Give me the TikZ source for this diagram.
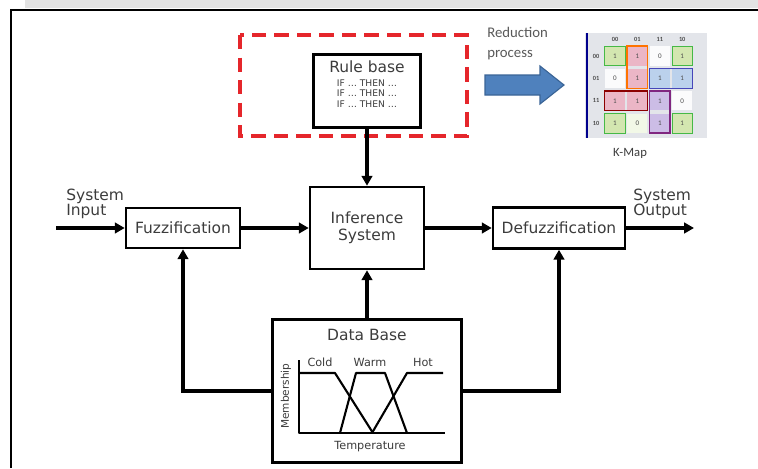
\documentclass[tikz,border=0pt]{standalone}
\usepackage{fontspec}
\setmainfont{DejaVu Sans}
\newfontfamily\calfont{Carlito}
\usetikzlibrary{arrows.meta,positioning}
\definecolor{txtgray}{HTML}{3C3C3C}
\definecolor{dashred}{HTML}{E5262B}
\definecolor{arrblue}{HTML}{4F81BD}
\definecolor{arrblueline}{HTML}{3A6496}
\definecolor{kgreen}{HTML}{D3E6B0}
\definecolor{kpink}{HTML}{EBB6C6}
\definecolor{kblue}{HTML}{BBD1EC}
\definecolor{kpurple}{HTML}{CCBDE6}
\definecolor{kback}{HTML}{E3E5EA}
\newcommand{\ifthen}{IF \ldots\ THEN \ldots}

\begin{document}
\begin{tikzpicture}[x=0.025cm, y=-0.025cm, font=\fontsize{11}{12}\selectfont, text=txtgray,
	blk/.style={draw=black, line width=1.8pt, fill=white, align=center, inner sep=2pt},
	arr/.style={draw=black, line width=2.4pt, -{Triangle[length=7pt,width=7.5pt]}},
	curve/.style={line width=1.5pt, line join=round},
	small/.style={font=\fontsize{8}{9}\selectfont, inner sep=1pt},
	kc/.style={minimum width=0.5cm, minimum height=0.48cm, inner sep=0pt,
		node distance=0.56cm, font=\calfont\fontsize{5}{5}\selectfont, text=black!70},
	kh/.style={inner sep=0pt, node distance=0.56cm, font=\calfont\bfseries\fontsize{4.5}{5}\selectfont, text=black!70}]
	\useasboundingbox (0,0) rectangle (758,468);
	\fill[gray!22] (25,0) rectangle (758,8);
	\draw[line width=1.5pt] (11,468) -- (11,10) -- (758,10);

	\draw[dashred, line width=2.2pt, dash pattern=on 10pt off 6pt] (240,35) rectangle (467,136);

	\node[blk, minimum width=2.675cm, minimum height=1.825cm, font=\fontsize{6.5}{7.5}\selectfont] (rule) at (367,91)
		{{\fontsize{11}{12}\selectfont Rule base}\\[2pt]\ifthen\\\ifthen\\\ifthen\\[2pt]};
	\node[blk, minimum width=2.85cm, minimum height=2.05cm] (infer) at (367,228) {Inference\\System};
	\node[blk, minimum width=2.85cm, minimum height=1cm] (fuzz) at (183,228) {Fuzzification};
	\node[blk, minimum width=3.3cm, minimum height=1.025cm] (defuzz) at (559,228) {Defuzzification};
	\node[blk, minimum width=4.725cm, minimum height=3.575cm] (data) at (367,391) {};
	\node (dtitle) at (367,335) {Data Base};

	\coordinate (in) at (56,228); \coordinate (out) at (694,228);
	\node[align=left, inner sep=0pt, anchor=south west, font=\fontsize{11}{11}\selectfont] (inlbl) at (66,219) {System\\Input};
	\node[align=left, inner sep=0pt, anchor=south west, font=\fontsize{11}{11}\selectfont] (outlbl) at (633,219) {System\\Output};

	\draw[arr] (in) -- (fuzz); \draw[arr] (fuzz) -- (infer); \draw[arr] (infer) -- (defuzz);
	\draw[arr] (defuzz) -- (out); \draw[arr] (rule) -- (infer); \draw[arr] (data) -- (infer);
	\draw[arr] (data.west) -| (fuzz); \draw[arr] (data.east) -| (defuzz);

	{
	\draw[curve] (299,360) -- (299,433) -- (445,433);
	\draw[curve] (299,373) -- (335,373) -- (373,433);
	\draw[curve] (340,433) -- (356,373) -- (385,373) -- (407,433);
	\draw[curve] (372,433) -- (407,373) -- (443,373);
	\node[small] (cold) at (320,362) {Cold}; \node[small] (warm) at (370,362) {Warm};
	\node[small] (hot) at (423,362) {Hot};
	\node[small, rotate=90, font=\fontsize{7.5}{8}\selectfont] (memb) at (286,396) {Membership};
	\node[small] (temp) at (370,447) {Temperature};
	}

	\node[align=left, inner sep=0pt, anchor=north west, font=\calfont\fontsize{10.5}{14}\selectfont, text=black!65] (redlbl)
		at (487,27) {Reduction\\process};
	\draw[arrblueline, fill=arrblue, line width=0.8pt, line join=miter]
		(485,75) -- (540,75) -- (540,66) -- (564,85) -- (540,104) -- (540,95) -- (485,95) -- cycle;

	{
	\fill[kback] (585,33) rectangle (707,138);
	\draw[blue!55!black, line width=1.2pt] (587,33) -- (587,138);
	\node[kh] (h1) at (615,39) {00}; \node[kh,right of=h1] (h2) {01}; \node[kh,right of=h2] (h3) {11};
	\node[kh,right of=h3] (h4) {10};
	\node[kh] (r1) at (596,56) {00}; \node[kh,below of=r1] (r2) {01}; \node[kh,below of=r2] (r3) {11};
	\node[kh,below of=r3] (r4) {10};

	\node[kc,fill=kgreen] (ka1) at (615,56) {1}; \node[kc,fill=kpink,right of=ka1] (ka2) {1};
	\node[kc,fill=white!85!kback,right of=ka2] (ka3) {0}; \node[kc,fill=kgreen,right of=ka3] (ka4) {1};
	\node[kc,fill=white!85!kback,below of=ka1] (kb1) {0}; \node[kc,fill=kpink,right of=kb1] (kb2) {1};
	\node[kc,fill=kblue,right of=kb2] (kb3) {1}; \node[kc,fill=kblue,right of=kb3] (kb4) {1};
	\node[kc,fill=kpink,below of=kb1] (kc1) {1}; \node[kc,fill=kpink,right of=kc1] (kc2) {1};
	\node[kc,fill=kpurple,right of=kc2] (kc3) {1}; \node[kc,fill=white!85!kback,right of=kc3] (kc4) {0};
	\node[kc,fill=kgreen,below of=kc1] (kd1) {1}; \node[kc,fill=white!70!kgreen,right of=kd1] (kd2) {0};
	\node[kc,fill=kpurple,right of=kd2] (kd3) {1}; \node[kc,fill=kgreen,right of=kd3] (kd4) {1};

	\draw[orange!90!red, line width=1pt] (ka2.north west) rectangle (kb2.south east);
	\draw[red!55!black, line width=1pt] (kc1.north west) rectangle (kc2.south east);
	\draw[blue!45!gray, line width=1pt] (kb3.north west) rectangle (kb4.south east);
	\draw[violet!70!gray, line width=1pt] (kc3.north west) rectangle (kd3.south east);
	\draw[green!45!gray, line width=0.6pt] (ka1.north west) rectangle (ka1.south east)
		(ka4.north west) rectangle (ka4.south east) (kd1.north west) rectangle (kd1.south east)
		(kd4.north west) rectangle (kd4.south east);
	\node[font=\calfont\fontsize{9}{10}\selectfont, inner sep=0pt] (kmap) at (630,153) {K-Map};
	}
\end{tikzpicture}
\end{document}
